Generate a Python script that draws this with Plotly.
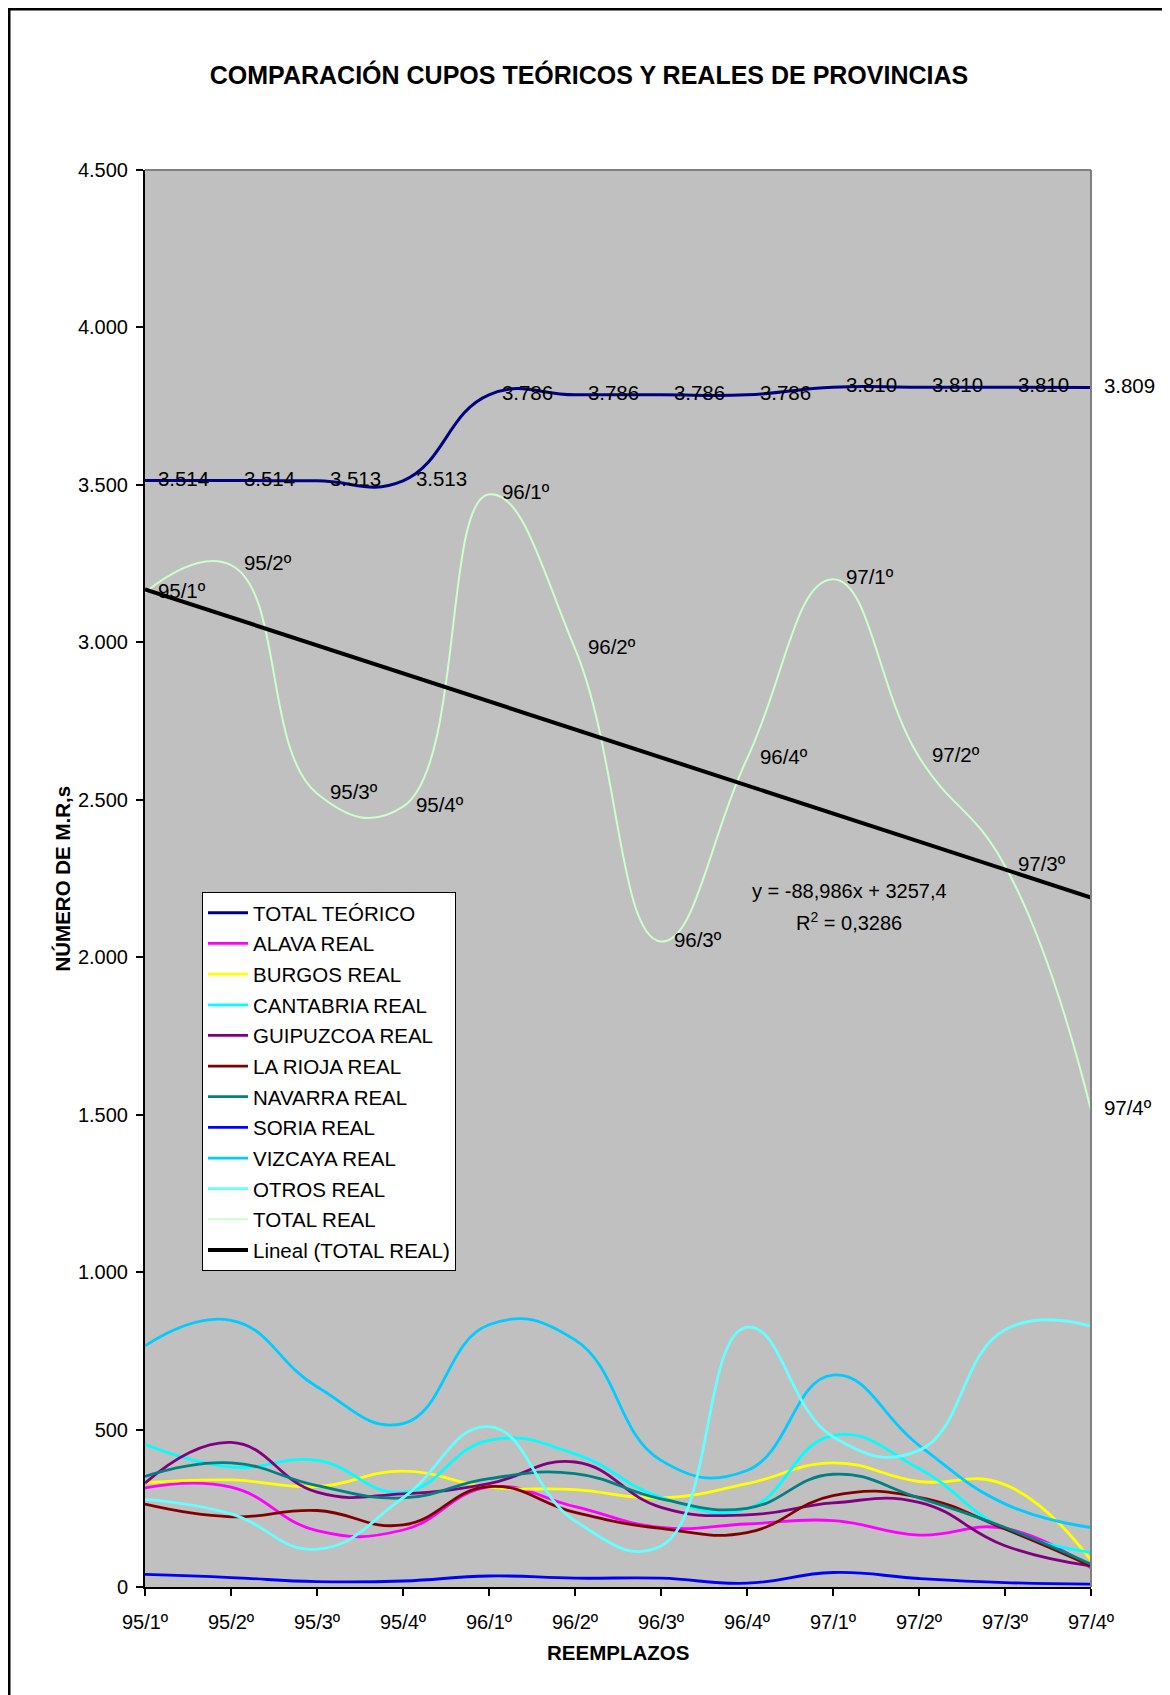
import plotly.graph_objects as go

# ---------------- data ----------------
categories = ["95/1º", "95/2º", "95/3º", "95/4º", "96/1º", "96/2º",
              "96/3º", "96/4º", "97/1º", "97/2º", "97/3º", "97/4º"]

total_teorico = [3514, 3514, 3513, 3513, 3786, 3786, 3786, 3786, 3810, 3810, 3810, 3809]
alava = [315, 317, 179, 181, 317, 255, 189, 200, 211, 165, 186, 60]
burgos = [331, 340, 319, 368, 317, 309, 283, 328, 394, 335, 325, 85]
cantabria = [453, 381, 402, 301, 466, 423, 285, 248, 481, 376, 184, 110]
guipuzcoa = [330, 459, 301, 296, 328, 397, 253, 229, 267, 269, 131, 67]
la_rioja = [263, 223, 243, 197, 319, 237, 186, 173, 290, 285, 184, 67]
navarra = [351, 394, 322, 283, 344, 360, 280, 250, 358, 283, 189, 72]
soria = [40, 30, 17, 19, 35, 28, 28, 12, 46, 27, 14, 9]
vizcaya = [766, 847, 636, 519, 833, 785, 402, 370, 673, 450, 264, 189]
otros = [278, 232, 120, 283, 509, 210, 130, 825, 477, 434, 817, 828]
total_real = [3158, 3245, 2520, 2478, 3470, 2980, 2050, 2630, 3200, 2636, 2290, 1515]

trend_slope = -88.986
trend_intercept = 3257.4
trend_r2 = 0.3286

y_ticks = [0, 500, 1000, 1500, 2000, 2500, 3000, 3500, 4000, 4500]

# ---------------- styling ----------------
FONT = "Arial, Liberation Sans, Helvetica, sans-serif"
OFF = 8  # page body margin
W, H = 1162, 1687
ML, MR, MT, MB = 137, 79, 162, 108
PW = W - ML - MR
PH = H - MT - MB


def px_to_paper_x(px_page):
    return (px_page - OFF - ML) / PW


def px_to_paper_y(py_page):
    return (H - MB - (py_page - OFF)) / PH


def es_num(v):
    return f"{v:,}".replace(",", ".")


fig = go.Figure()

transparent_marker = dict(size=19, color="rgba(0,0,0,0)")
SMOOTH = 1.3

fig.add_trace(go.Scatter(
    x=categories, y=total_teorico, name="TOTAL TEÓRICO", legendgroup="g0",
    mode="lines+markers+text",
    line=dict(color="#000080", width=3, shape="spline", smoothing=SMOOTH),
    marker=transparent_marker,
    text=[es_num(v) for v in total_teorico], textposition="middle right",
    textfont=dict(family=FONT, size=20.5, color="black"), cliponaxis=False))

series = [
    ("ALAVA REAL", alava, "#FF00FF"),
    ("BURGOS REAL", burgos, "#FFFF00"),
    ("CANTABRIA REAL", cantabria, "#00FFFF"),
    ("GUIPUZCOA REAL", guipuzcoa, "#800080"),
    ("LA RIOJA REAL", la_rioja, "#800000"),
    ("NAVARRA REAL", navarra, "#008080"),
    ("SORIA REAL", soria, "#0000FF"),
    ("VIZCAYA REAL", vizcaya, "#00CCFF"),
    ("OTROS REAL", otros, "#66FFFF"),
]
for i, (name, vals, col) in enumerate(series):
    fig.add_trace(go.Scatter(
        x=categories, y=vals, name=name, mode="lines", legendgroup=f"g{i + 1}",
        line=dict(color=col, width=2.8, shape="spline", smoothing=SMOOTH),
        cliponaxis=False))

fig.add_trace(go.Scatter(
    x=categories, y=total_real, name="TOTAL REAL", legendgroup="g10",
    mode="lines+markers+text",
    line=dict(color="#CCFFCC", width=2, shape="spline", smoothing=SMOOTH),
    marker=transparent_marker,
    text=categories, textposition="middle right",
    textfont=dict(family=FONT, size=20.5, color="black"), cliponaxis=False))

trend_x = list(range(1, len(categories) + 1))
trend_y = [trend_intercept + trend_slope * i for i in trend_x]
fig.add_trace(go.Scatter(
    x=categories, y=trend_y, name="Lineal (TOTAL REAL)", mode="lines",
    legendgroup="g11", line=dict(color="black", width=4)))

eq1 = f"y = {trend_slope}x + {trend_intercept}".replace(".", ",")
eq2 = f"R<sup>2</sup> = {trend_r2}".replace(".", ",")

annotations = [
    dict(text=eq1, xref="paper", yref="paper", x=px_to_paper_x(849), y=px_to_paper_y(891),
         showarrow=False, xanchor="center", yanchor="middle",
         font=dict(family=FONT, size=20, color="black")),
    dict(text=eq2, xref="paper", yref="paper", x=px_to_paper_x(849), y=px_to_paper_y(921),
         showarrow=False, xanchor="center", yanchor="middle",
         font=dict(family=FONT, size=20, color="black")),
    dict(text="<b>NÚMERO DE M.R,s</b>", xref="paper", yref="paper",
         x=px_to_paper_x(62), y=0.5, textangle=-90, showarrow=False,
         xanchor="center", yanchor="middle",
         font=dict(family=FONT, size=20.5, color="black")),
    dict(text="<b>REEMPLAZOS</b>", xref="paper", yref="paper",
         x=0.5, y=px_to_paper_y(1652), showarrow=False,
         xanchor="center", yanchor="middle",
         font=dict(family=FONT, size=20.5, color="black")),
]

shapes = [
    # outer chart border
    dict(type="rect", xref="paper", yref="paper",
         x0=px_to_paper_x(9), x1=px_to_paper_x(1165),
         y0=px_to_paper_y(1730), y1=px_to_paper_y(9),
         line=dict(color="black", width=3), fillcolor="rgba(0,0,0,0)", layer="above"),
    # grey plot-area border (top & right)
    dict(type="line", xref="paper", yref="paper", x0=0, x1=1, y0=1, y1=1,
         line=dict(color="#808080", width=2), layer="above"),
    dict(type="line", xref="paper", yref="paper", x0=1, x1=1, y0=0, y1=1,
         line=dict(color="#808080", width=2), layer="above"),
]

fig.update_layout(
    width=W, height=H,
    margin=dict(l=ML, r=MR, t=MT, b=MB, pad=0),
    paper_bgcolor="white", plot_bgcolor="#C0C0C0",
    separators=",.",
    font=dict(family=FONT, size=20, color="black"),
    title=dict(text="<b>COMPARACIÓN CUPOS TEÓRICOS Y REALES DE PROVINCIAS</b>",
               xref="container", yref="container",
               x=(589 - OFF) / W, y=1 - (75 - OFF) / H,
               xanchor="center", yanchor="middle",
               font=dict(family=FONT, size=25, color="black")),
    showlegend=True,
    legend=dict(x=px_to_paper_x(202), y=px_to_paper_y(892), xanchor="left", yanchor="top",
                bgcolor="white", bordercolor="black", borderwidth=1,
                font=dict(family=FONT, size=20.5, color="black"),
                itemwidth=40, tracegroupgap=1),
    annotations=annotations,
    shapes=shapes,
)

fig.update_xaxes(
    type="category", range=[0, len(categories) - 1], showgrid=False, zeroline=False,
    showline=True, linecolor="black", linewidth=2,
    ticks="outside", ticklen=7, tickwidth=1.5, tickcolor="black",
    tickfont=dict(family=FONT, size=20, color="black"), ticklabelstandoff=9)

fig.update_yaxes(
    range=[0, 4500], tickvals=y_ticks, tickformat=",d", showgrid=False, zeroline=False,
    showline=True, linecolor="black", linewidth=2,
    ticks="outside", ticklen=7, tickwidth=1.5, tickcolor="black",
    tickfont=dict(family=FONT, size=20, color="black"), ticklabelstandoff=4)

fig.write_html("out.html")
